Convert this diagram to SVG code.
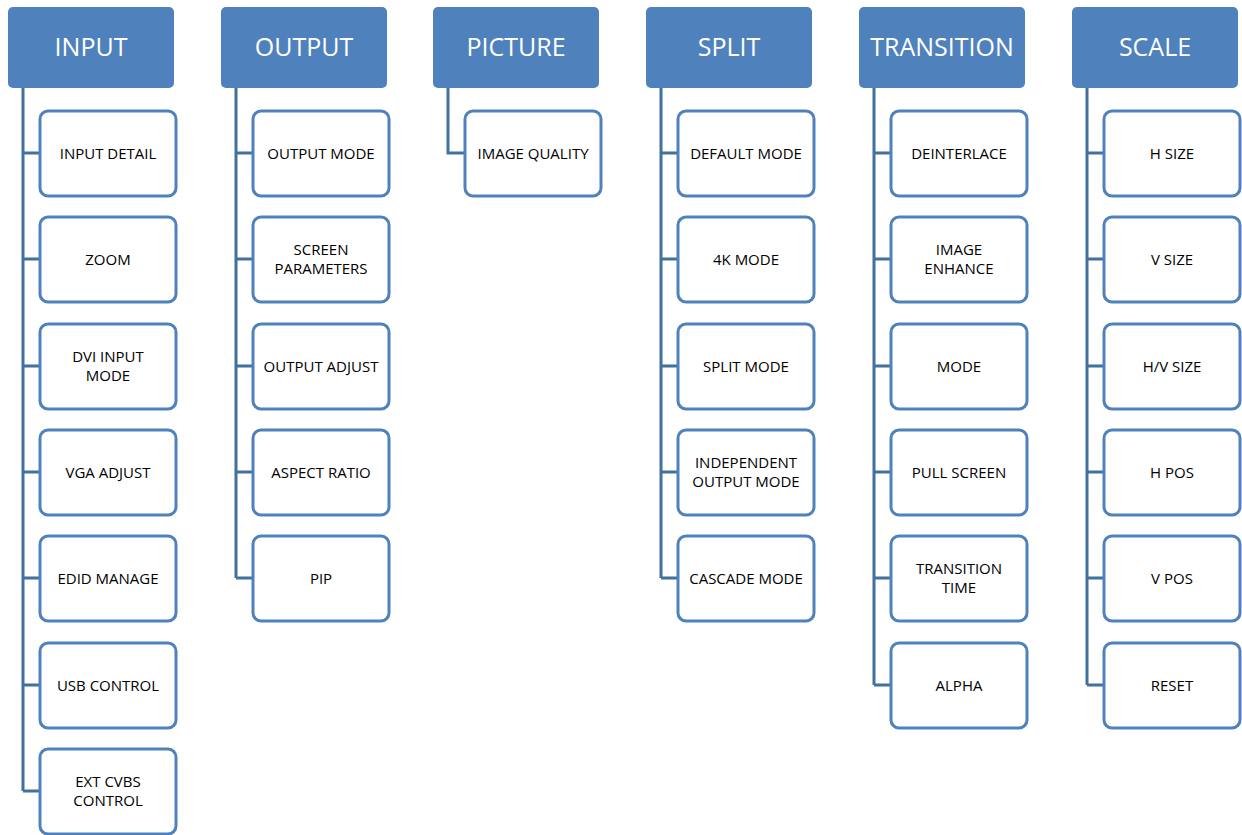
<svg xmlns="http://www.w3.org/2000/svg" width="1242" height="835" viewBox="0 0 1242 835">
<style>
.h{fill:#4F81BD;}
.ht{fill:#fff;font-family:"Open Sans","Liberation Sans",sans-serif;font-size:25px;text-anchor:middle;dominant-baseline:central;}
.c{fill:#fff;stroke:#4F81BD;stroke-width:3;}
.ct{fill:#000;font-family:"Open Sans","Liberation Sans",sans-serif;font-size:15px;text-anchor:middle;dominant-baseline:central;}
.ln{fill:none;stroke:#41719C;stroke-width:3;}
</style>
<rect width="1242" height="835" fill="#fff"/>
<g id="connectors">
<path class="ln" d="M23 88V791M23 153H40M23 259H40M23 366H40M23 472H40M23 578H40M23 685H40M23 791H40"/>
<path class="ln" d="M236 88V578M236 153H253M236 259H253M236 366H253M236 472H253M236 578H253"/>
<path class="ln" d="M448 88V153H465"/>
<path class="ln" d="M661 88V578M661 153H678M661 259H678M661 366H678M661 472H678M661 578H678"/>
<path class="ln" d="M874 88V685M874 153H891M874 259H891M874 366H891M874 472H891M874 578H891M874 685H891"/>
<path class="ln" d="M1087 88V685M1087 153H1104M1087 259H1104M1087 366H1104M1087 472H1104M1087 578H1104M1087 685H1104"/>
</g>
<g id="input"><rect class="h" x="8" y="7" width="166" height="81" rx="5"/><text class="ht" x="91" y="46">INPUT</text></g>
<g id="output"><rect class="h" x="221" y="7" width="166" height="81" rx="5"/><text class="ht" x="304" y="46">OUTPUT</text></g>
<g id="picture"><rect class="h" x="433" y="7" width="166" height="81" rx="5"/><text class="ht" x="516" y="46">PICTURE</text></g>
<g id="split"><rect class="h" x="646" y="7" width="166" height="81" rx="5"/><text class="ht" x="729" y="46">SPLIT</text></g>
<g id="transition"><rect class="h" x="859" y="7" width="166" height="81" rx="5"/><text class="ht" x="942" y="46">TRANSITION</text></g>
<g id="scale"><rect class="h" x="1072" y="7" width="166" height="81" rx="5"/><text class="ht" x="1155" y="46">SCALE</text></g>

<g id="input-detail"><rect class="c" x="40" y="111" width="136" height="85" rx="8"/><text class="ct" x="108" y="153">INPUT DETAIL</text></g>
<g id="zoom"><rect class="c" x="40" y="217" width="136" height="85" rx="8"/><text class="ct" x="108" y="259">ZOOM</text></g>
<g id="dvi-input-mode"><rect class="c" x="40" y="324" width="136" height="85" rx="8"/><text class="ct" x="108" y="356">DVI INPUT</text><text class="ct" x="108" y="375">MODE</text></g>
<g id="vga-adjust"><rect class="c" x="40" y="430" width="136" height="85" rx="8"/><text class="ct" x="108" y="472">VGA ADJUST</text></g>
<g id="edid-manage"><rect class="c" x="40" y="536" width="136" height="85" rx="8"/><text class="ct" x="108" y="578">EDID MANAGE</text></g>
<g id="usb-control"><rect class="c" x="40" y="643" width="136" height="85" rx="8"/><text class="ct" x="108" y="685">USB CONTROL</text></g>
<g id="ext-cvbs-control"><rect class="c" x="40" y="749" width="136" height="85" rx="8"/><text class="ct" x="108" y="781">EXT CVBS</text><text class="ct" x="108" y="800">CONTROL</text></g>

<g id="output-mode"><rect class="c" x="253" y="111" width="136" height="85" rx="8"/><text class="ct" x="321" y="153">OUTPUT MODE</text></g>
<g id="screen-parameters"><rect class="c" x="253" y="217" width="136" height="85" rx="8"/><text class="ct" x="321" y="249">SCREEN</text><text class="ct" x="321" y="268">PARAMETERS</text></g>
<g id="output-adjust"><rect class="c" x="253" y="324" width="136" height="85" rx="8"/><text class="ct" x="321" y="366">OUTPUT ADJUST</text></g>
<g id="aspect-ratio"><rect class="c" x="253" y="430" width="136" height="85" rx="8"/><text class="ct" x="321" y="472">ASPECT RATIO</text></g>
<g id="pip"><rect class="c" x="253" y="536" width="136" height="85" rx="8"/><text class="ct" x="321" y="578">PIP</text></g>

<g id="image-quality"><rect class="c" x="465" y="111" width="136" height="85" rx="8"/><text class="ct" x="533" y="153">IMAGE QUALITY</text></g>

<g id="default-mode"><rect class="c" x="678" y="111" width="136" height="85" rx="8"/><text class="ct" x="746" y="153">DEFAULT MODE</text></g>
<g id="4k-mode"><rect class="c" x="678" y="217" width="136" height="85" rx="8"/><text class="ct" x="746" y="259">4K MODE</text></g>
<g id="split-mode"><rect class="c" x="678" y="324" width="136" height="85" rx="8"/><text class="ct" x="746" y="366">SPLIT MODE</text></g>
<g id="independent-output-mode"><rect class="c" x="678" y="430" width="136" height="85" rx="8"/><text class="ct" x="746" y="462">INDEPENDENT</text><text class="ct" x="746" y="481">OUTPUT MODE</text></g>
<g id="cascade-mode"><rect class="c" x="678" y="536" width="136" height="85" rx="8"/><text class="ct" x="746" y="578">CASCADE MODE</text></g>

<g id="deinterlace"><rect class="c" x="891" y="111" width="136" height="85" rx="8"/><text class="ct" x="959" y="153">DEINTERLACE</text></g>
<g id="image-enhance"><rect class="c" x="891" y="217" width="136" height="85" rx="8"/><text class="ct" x="959" y="249">IMAGE</text><text class="ct" x="959" y="268">ENHANCE</text></g>
<g id="mode"><rect class="c" x="891" y="324" width="136" height="85" rx="8"/><text class="ct" x="959" y="366">MODE</text></g>
<g id="pull-screen"><rect class="c" x="891" y="430" width="136" height="85" rx="8"/><text class="ct" x="959" y="472">PULL SCREEN</text></g>
<g id="transition-time"><rect class="c" x="891" y="536" width="136" height="85" rx="8"/><text class="ct" x="959" y="568">TRANSITION</text><text class="ct" x="959" y="587">TIME</text></g>
<g id="alpha"><rect class="c" x="891" y="643" width="136" height="85" rx="8"/><text class="ct" x="959" y="685">ALPHA</text></g>

<g id="h-size"><rect class="c" x="1104" y="111" width="136" height="85" rx="8"/><text class="ct" x="1172" y="153">H SIZE</text></g>
<g id="v-size"><rect class="c" x="1104" y="217" width="136" height="85" rx="8"/><text class="ct" x="1172" y="259">V SIZE</text></g>
<g id="hv-size"><rect class="c" x="1104" y="324" width="136" height="85" rx="8"/><text class="ct" x="1172" y="366">H/V SIZE</text></g>
<g id="h-pos"><rect class="c" x="1104" y="430" width="136" height="85" rx="8"/><text class="ct" x="1172" y="472">H POS</text></g>
<g id="v-pos"><rect class="c" x="1104" y="536" width="136" height="85" rx="8"/><text class="ct" x="1172" y="578">V POS</text></g>
<g id="reset"><rect class="c" x="1104" y="643" width="136" height="85" rx="8"/><text class="ct" x="1172" y="685">RESET</text></g>
</svg>
